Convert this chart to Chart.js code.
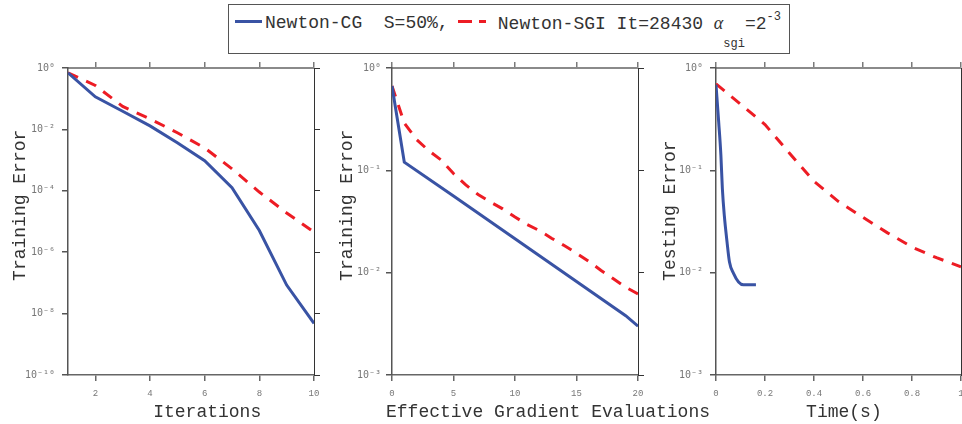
<!DOCTYPE html>
<html>
<head>
<meta charset="utf-8">
<script src="https://cdn.jsdelivr.net/npm/chart.js@4.4.1/dist/chart.umd.min.js"></script>
<style>
  html, body { margin: 0; padding: 0; background: #fff; }
  #wrap { position: relative; width: 962px; height: 424px; overflow: hidden; background: #fff; }
  #wrap canvas { position: absolute; left: 0; top: 0; }
  #legend { position: absolute; left: 228px; top: 4px; width: 562px; height: 50px; box-sizing: border-box;
            border: 1px solid #555; background: #fff; z-index: 5; font-family: "Liberation Mono", monospace;
            font-size: 18px; color: #333; }
  #legend .t { position: absolute; top: 9px; line-height: 18px; white-space: pre; }
  #legend .ln { position: absolute; height: 3px; }
  .alpha { font-family: "Liberation Serif", serif; font-style: italic; }
  .sub { font-size: 12px; position: relative; top: 18px; }
  .sup { font-size: 12px; position: relative; top: -9px; }
</style>
</head>
<body>
<div id="wrap">
  <canvas id="c1" width="962" height="424"></canvas>
  <canvas id="c2" width="962" height="424"></canvas>
  <canvas id="c3" width="962" height="424"></canvas>
  <div id="legend">
    <div class="ln" style="left:6px;top:15px;width:27px;background:#3953a4;"></div>
    <div class="t" style="left:36px;">Newton-CG  S=50%,</div>
    <div class="ln" style="left:229px;top:15px;width:28px;background:linear-gradient(to right,#ed1c24 0,#ed1c24 14px,transparent 14px,transparent 21px,#ed1c24 21px,#ed1c24 28px);"></div>
    <div class="t" style="left:258px;"> Newton-SGI It=28430 <span class="alpha">α</span><span class="sub">sgi</span>=2<span class="sup">-3</span></div>
  </div>
</div>
<script>
// ---------------- data ----------------
// Panel 1: Training error vs iterations
const iterX   = [1, 2, 3, 4, 5, 6, 7, 8, 9, 10];
const iterCG  = [0.7, 0.115, 0.039, 0.013, 0.0037, 9.5e-4, 1.26e-4, 5.1e-6, 8.5e-8, 4.8e-9];
const iterSGI = [0.7, 0.27, 0.056, 0.022, 0.0078, 0.0025, 5.2e-4, 9.1e-5, 1.9e-5, 4.5e-6];
const iterXTicks = [2, 4, 6, 8, 10];
const iterYTicks = [1e-10, 1e-8, 1e-6, 1e-4, 1e-2, 1];

// Panel 2: Training error vs effective gradient evaluations
const egeXCG  = [0, 1, 5, 10, 15, 19, 20];
const egeCG   = [0.667, 0.12, 0.056, 0.0215, 0.0082, 0.0038, 0.0030];
const egeXSGI = [0, 1, 2, 3, 4, 5, 6, 7, 8, 9, 10, 11, 12, 13, 14, 15, 16, 17, 18, 19, 20];
const egeSGI  = [0.667, 0.29, 0.20, 0.155, 0.126, 0.093, 0.072, 0.058, 0.049, 0.042, 0.035,
                 0.0295, 0.0257, 0.0216, 0.0184, 0.0155, 0.0129, 0.0105, 0.0087, 0.0072, 0.0062];
const egeXTicks = [0, 5, 10, 15, 20];
const decYTicks = [1e-3, 1e-2, 1e-1, 1];

// Panel 3: Testing error vs time
const timeXCG  = [0, 0.011, 0.020, 0.026, 0.034, 0.045, 0.055, 0.072, 0.092, 0.112, 0.163];
const timeCG   = [0.687, 0.296, 0.14, 0.066, 0.036, 0.020, 0.0127, 0.0098, 0.0081, 0.0076, 0.0076];
const timeXSGI = [0, 0.1, 0.2, 0.3, 0.4, 0.5, 0.6, 0.7, 0.8, 0.9, 1.0];
const timeSGI  = [0.70, 0.443, 0.28, 0.147, 0.078, 0.0495, 0.0347, 0.0245, 0.0178, 0.014, 0.0114];
const timeXTicks = [0, 0.2, 0.4, 0.6, 0.8, 1];

// ---------------- styling ----------------
const BLUE = '#3953a4';
const RED = '#ed1c24';
const MONO = '"Liberation Mono", monospace';
const TITLE_COLOR = '#333';
const SUPMAP = {'-': '⁻', '0': '⁰', '1': '¹', '2': '²', '3': '³', '4': '⁴', '5': '⁵', '6': '⁶', '7': '⁷', '8': '⁸', '9': '⁹'};
function pow10Label(v) {
  const e = String(Math.round(Math.log10(v)));
  return '10' + e.split('').map(c => SUPMAP[c]).join('');
}
function pts(xs, ys) { return xs.map((x, i) => ({x: x, y: ys[i]})); }
function setTicks(arr) { return s => { s.ticks = arr.map(v => ({value: v})); }; }

// Draws a wide x-axis title without Chart.js squeezing it to the axis width
const freeXTitle = {
  id: 'freeXTitle',
  afterDraw(chart, args, opts) {
    if (!opts || !opts.text) return;
    const ctx = chart.ctx, a = chart.chartArea;
    ctx.save();
    ctx.font = '18px ' + MONO;
    ctx.fillStyle = TITLE_COLOR;
    ctx.textAlign = 'center';
    ctx.textBaseline = 'middle';
    ctx.fillText(opts.text, (a.left + a.right) / 2 + opts.dx, chart.height - 11.8);
    ctx.restore();
  }
};

function panel(id, o) {
  const gridBase = (col, w) => ({drawOnChartArea: false, drawTicks: true, tickLength: 6, color: col, tickColor: col, lineWidth: w, tickWidth: w});
  new Chart(document.getElementById(id), {
    type: 'line',
    data: {
      datasets: [
        {label: 'Newton-CG', data: pts(o.cgX, o.cg), borderColor: BLUE, borderWidth: 3, pointRadius: 0,
         fill: false, cubicInterpolationMode: o.smooth ? 'monotone' : 'default', tension: 0, xAxisID: 'x', yAxisID: 'y'},
        {label: 'Newton-SGI', data: pts(o.sgiX, o.sgi), borderColor: RED, borderWidth: 3, borderDash: [11, 9],
         pointRadius: 0, fill: false, tension: 0, xAxisID: 'x', yAxisID: 'y'}
      ]
    },
    plugins: [freeXTitle],
    options: {
      responsive: false, animation: false, events: [],
      layout: {padding: {left: o.padL, right: o.padR, top: 62, bottom: 0}},
      plugins: {legend: {display: false}, tooltip: {enabled: false},
                freeXTitle: o.freeTitle ? {text: o.xTitle, dx: o.freeDx} : {text: ''}},
      scales: {
        x: {
          type: 'linear', position: 'bottom', min: o.xMin, max: o.xMax,
          afterBuildTicks: setTicks(o.xTicks),
          afterFit: s => { s.height = 49; s.paddingLeft = 0; s.paddingRight = 0; },
          ticks: {autoSkip: false, maxRotation: 0, padding: 7, color: '#777', font: {family: MONO, size: 9},
                  callback: v => o.xFmt(v)},
          grid: gridBase('#666', 1.5),
          border: {display: true, color: '#666', width: 1.5},
          title: {display: !o.freeTitle, text: o.xTitle, color: TITLE_COLOR, font: {family: MONO, size: 18}, padding: {top: 0, bottom: 1}}
        },
        x2: {
          type: 'linear', position: 'top', axis: 'x', min: o.xMin, max: o.xMax,
          afterBuildTicks: setTicks(o.xTicks),
          afterFit: s => { s.height = 6; s.paddingLeft = 0; s.paddingRight = 0; },
          ticks: {display: false},
          grid: gridBase('#7a7a7a', 1.5),
          border: {display: true, color: '#8a8a8a', width: 2}
        },
        y: {
          type: 'logarithmic', position: 'left', min: o.yMin, max: o.yMax,
          afterBuildTicks: setTicks(o.yTicks),
          afterFit: s => { s.width = o.yW; s.paddingTop = 0; s.paddingBottom = 0; },
          ticks: {autoSkip: false, padding: o.yPad, color: '#777', font: {family: '"DejaVu Sans Mono", monospace', size: 10},
                  callback: v => pow10Label(v)},
          grid: gridBase('#555', 1.5),
          border: {display: true, color: '#555', width: 1.5},
          title: {display: true, text: o.yTitle, color: TITLE_COLOR, font: {family: MONO, size: 18}, padding: {top: o.yTitlePad, bottom: 0}}
        },
        y2: {
          type: 'logarithmic', position: 'right', axis: 'y', min: o.yMin, max: o.yMax,
          afterBuildTicks: setTicks(o.yTicks),
          afterFit: s => { s.width = o.y2W; s.paddingTop = 0; s.paddingBottom = 0; },
          ticks: {display: false},
          grid: gridBase('#333', 1),
          border: {display: true, color: '#333', width: 1}
        }
      }
    }
  });
}

panel('c1', {
  cgX: iterX, cg: iterCG, sgiX: iterX, sgi: iterSGI,
  xMin: 1, xMax: 10, xTicks: iterXTicks, xFmt: v => String(v),
  yMin: 1e-10, yMax: 1, yTicks: iterYTicks,
  padL: 0, yW: 68, padR: 642, y2W: 6, yPad: 7, yTitlePad: 9,
  xTitle: '   Iterations', yTitle: '   Training Error'
});
panel('c2', {
  cgX: egeXCG, cg: egeCG, sgiX: egeXSGI, sgi: egeSGI,
  xMin: 0, xMax: 20, xTicks: egeXTicks, xFmt: v => String(v),
  yMin: 1e-3, yMax: 1, yTicks: decYTicks,
  padL: 330, yW: 62, padR: 318, y2W: 6, yPad: 5, yTitlePad: 6.5,
  xTitle: 'Effective Gradient Evaluations', freeTitle: true, freeDx: 33,
  yTitle: '   Training Error'
});
panel('c3', {
  cgX: timeXCG, cg: timeCG, sgiX: timeXSGI, sgi: timeSGI, smooth: true,
  xMin: 0, xMax: 1, xTicks: timeXTicks, xFmt: v => (v === 0 || v === 1) ? String(v) : v.toFixed(1),
  yMin: 1e-3, yMax: 1, yTicks: decYTicks,
  padL: 650, yW: 66, padR: 0, y2W: 1, yPad: 7, yTitlePad: 9,
  xTitle: ' Time(s)', yTitle: '  Testing Error'
});
</script>
</body>
</html>
